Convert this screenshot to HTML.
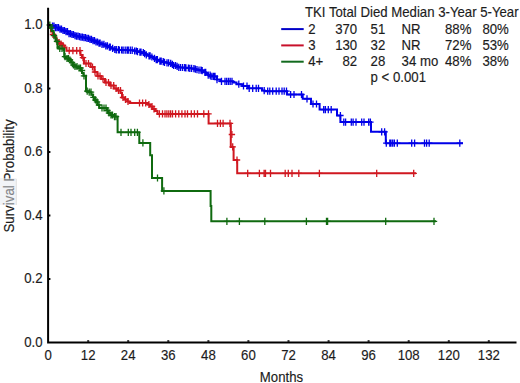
<!DOCTYPE html>
<html><head><meta charset="utf-8"><style>
html,body{margin:0;padding:0;background:#fff;width:520px;height:383px;overflow:hidden}
svg{display:block}
.t{font-family:"Liberation Sans",sans-serif;font-size:13.2px;fill:#1c1c1c;stroke:#1c1c1c;stroke-width:0.15px}
</style></head><body>
<svg width="520" height="383" viewBox="0 0 520 383">
<rect width="520" height="383" fill="#fff"/>
<path d="M48.1 25.0L50.6 25.0L50.6 25.5L52.3 25.5L52.3 26.0L55.2 26.0L55.2 27.6L58.5 27.6L58.5 29.2L61.5 29.2L61.5 30.5L64.8 30.5L64.8 31.6L68.0 31.6L68.0 33.6L71.0 33.6L71.0 34.5L73.7 34.5L73.7 35.6L76.0 35.6L76.0 36.2L78.3 36.2L78.3 36.7L80.6 36.7L80.6 37.2L82.9 37.2L82.9 37.6L86.0 37.6L86.0 38.3L89.0 38.3L89.0 39.4L92.2 39.4L92.2 40.7L95.0 40.7L95.0 42.0L98.5 42.0L98.5 43.2L101.4 43.2L101.4 44.3L104.8 44.3L104.8 45.8L108.0 45.8L108.0 47.2L111.0 47.2L111.0 48.4L113.8 48.4L113.8 49.5L116.2 49.5L116.2 49.8L118.5 49.8L118.5 50.0L120.8 50.0L120.8 50.0L123.1 50.0L123.1 50.1L125.4 50.1L125.4 50.1L127.7 50.1L127.7 50.2L130.0 50.2L130.0 50.2L132.3 50.2L132.3 50.3L134.6 50.3L134.6 51.0L136.9 51.0L136.9 51.7L139.2 51.7L139.2 52.1L141.5 52.1L141.5 52.5L143.8 52.5L143.8 53.6L146.2 53.6L146.2 54.8L148.5 54.8L148.5 55.9L150.8 55.9L150.8 57.0L153.1 57.0L153.1 58.3L155.4 58.3L155.4 59.6L157.5 59.6L157.5 60.4L159.6 60.4L159.6 61.2L161.9 61.2L161.9 61.8L164.2 61.8L164.2 62.3L166.5 62.3L166.5 62.8L168.8 62.8L168.8 63.3L171.2 63.3L171.2 64.4L173.5 64.4L173.5 65.5L175.8 65.5L175.8 66.4L178.0 66.4L178.0 67.3L180.3 67.3L180.3 67.5L182.7 67.5L182.7 67.7L185.0 67.7L185.0 67.8L187.3 67.8L187.3 68.0L189.6 68.0L189.6 68.3L191.9 68.3L191.9 68.6L194.2 68.6L194.2 69.2L196.5 69.2L196.5 69.7L198.8 69.7L198.8 70.2L201.2 70.2L201.2 70.6L203.5 70.6L203.5 72.3L205.8 72.3L205.8 74.0L208.1 74.0L208.1 75.2L210.4 75.2L210.4 76.4L217.0 76.2L217.0 79.6L220.4 79.6L220.4 81.3L233.0 81.3L233.0 82.5L236.5 82.5L236.5 84.2L242.3 84.2L242.3 86.0L248.0 86.0L248.0 88.3L262.0 88.3L262.0 90.6L264.6 90.6L264.6 91.2L287.0 91.2L287.0 94.5L302.7 94.5L302.7 98.8L311.0 98.8L311.0 104.0L319.6 104.0L319.6 109.6L337.0 109.6L337.0 115.5L340.4 115.5L340.4 122.1L371.0 122.1L371.0 131.8L385.8 131.8L385.8 143.2L463.0 143.2" fill="none" stroke="#0000e8" stroke-width="2.0"/>
<path d="M52.5 22.4V29.6M49.3 26.0H55.7M54.0 22.4V29.6M50.8 26.0H57.2M55.5 24.0V31.2M52.3 27.6H58.7M57.0 24.0V31.2M53.8 27.6H60.2M58.5 24.0V31.2M55.3 27.6H61.7M60.0 25.6V32.8M56.8 29.2H63.2M61.5 25.6V32.8M58.3 29.2H64.7M63.0 26.9V34.1M59.8 30.5H66.2M64.5 26.9V34.1M61.3 30.5H67.7M66.0 28.0V35.2M62.8 31.6H69.2M67.5 28.0V35.2M64.3 31.6H70.7M69.0 30.0V37.2M65.8 33.6H72.2M70.5 30.0V37.2M67.3 33.6H73.7M72.0 30.9V38.1M68.8 34.5H75.2M73.5 30.9V38.1M70.3 34.5H76.7M75.0 32.0V39.2M71.8 35.6H78.2M76.5 32.6V39.8M73.3 36.2H79.7M78.0 32.6V39.8M74.8 36.2H81.2M79.5 33.1V40.3M76.3 36.7H82.7M81.0 33.6V40.8M77.8 37.2H84.2M82.5 33.6V40.8M79.3 37.2H85.7M84.0 34.0V41.2M80.8 37.6H87.2M85.5 34.0V41.2M82.3 37.6H88.7M87.0 34.7V41.9M83.8 38.3H90.2M88.5 34.7V41.9M85.3 38.3H91.7M90.0 35.8V43.0M86.8 39.4H93.2M91.5 35.8V43.0M88.3 39.4H94.7M93.0 37.1V44.3M89.8 40.7H96.2M94.5 37.1V44.3M91.3 40.7H97.7M96.0 38.4V45.6M92.8 42.0H99.2M97.5 38.4V45.6M94.3 42.0H100.7M99.0 39.6V46.8M95.8 43.2H102.2M100.1 39.6V46.8M96.9 43.2H103.3M102.0 40.7V47.9M98.8 44.3H105.2M103.9 40.7V47.9M100.7 44.3H107.1M105.8 42.2V49.4M102.6 45.8H109.0M107.4 42.2V49.4M104.2 45.8H110.6M109.4 43.6V50.8M106.2 47.2H112.6M110.3 43.6V50.8M107.1 47.2H113.5M112.6 44.8V52.0M109.4 48.4H115.8M114.8 45.9V53.1M111.6 49.5H118.0M116.3 46.1V53.4M113.1 49.8H119.5M118.4 46.1V53.4M115.2 49.8H121.6M119.4 46.4V53.6M116.2 50.0H122.6M121.6 46.4V53.6M118.4 50.0H124.8M123.1 46.5V53.7M119.9 50.1H126.3M125.2 46.5V53.7M122.0 50.1H128.4M127.1 46.5V53.8M123.9 50.1H130.3M128.3 46.6V53.8M125.1 50.2H131.5M130.3 46.6V53.9M127.1 50.2H133.5M132.2 46.6V53.9M129.0 50.2H135.4M134.6 47.4V54.6M131.4 51.0H137.8M136.3 47.4V54.6M133.1 51.0H139.5M137.5 48.1V55.3M134.3 51.7H140.7M139.9 48.5V55.7M136.7 52.1H143.1M141.0 48.5V55.7M137.8 52.1H144.2M143.3 48.9V56.1M140.1 52.5H146.5M144.6 50.0V57.2M141.4 53.6H147.8M146.3 51.2V58.4M143.1 54.8H149.5M149.0 52.3V59.5M145.8 55.9H152.2M150.1 52.3V59.5M146.9 55.9H153.3M151.9 53.4V60.6M148.7 57.0H155.1M154.5 54.7V61.9M151.3 58.3H157.7M156.2 56.0V63.2M153.0 59.6H159.4M157.4 56.0V63.2M154.2 59.6H160.6M159.9 57.6V64.8M156.7 61.2H163.1M161.2 57.6V64.8M158.0 61.2H164.4M163.2 58.1V65.3M160.0 61.8H166.4M164.5 58.7V65.9M161.3 62.3H167.7M167.0 59.2V66.4M163.8 62.8H170.2M168.6 59.2V66.4M165.4 62.8H171.8M170.7 59.7V66.9M167.5 63.3H173.9M172.4 60.8V68.0M169.2 64.4H175.6M173.6 61.9V69.1M170.4 65.5H176.8M175.5 61.9V69.1M172.3 65.5H178.7M177.1 62.8V70.0M173.9 66.4H180.3M178.8 63.7V70.9M175.6 67.3H182.0M180.6 63.9V71.1M177.4 67.5H183.8M182.6 63.9V71.1M179.4 67.5H185.8M184.7 64.1V71.2M181.5 67.7H187.9M185.9 64.2V71.4M182.7 67.8H189.1M188.4 64.4V71.6M185.2 68.0H191.6M189.8 64.7V71.9M186.6 68.3H193.0M191.6 64.7V71.9M188.4 68.3H194.8M193.9 65.0V72.2M190.7 68.6H197.1M195.4 65.6V72.8M192.2 69.2H198.6M197.0 66.1V73.3M193.8 69.7H200.2M199.0 66.6V73.8M195.8 70.2H202.2M201.0 66.6V73.8M197.8 70.2H204.2M202.2 67.0V74.2M199.0 70.6H205.4M204.9 68.7V75.9M201.7 72.3H208.1M205.7 68.7V75.9M202.5 72.3H208.9M208.2 71.6V78.8M205.0 75.2H211.4M210.1 71.6V78.8M206.9 75.2H213.3M211.1 72.8V80.0M207.9 76.4H214.3M213.7 72.8V80.0M210.5 76.4H216.9M213.0 72.8V80.0M209.8 76.4H216.2M215.0 72.8V80.0M211.8 76.4H218.2M217.0 76.0V83.2M213.8 79.6H220.2M221.5 77.7V84.9M218.3 81.3H224.7M225.0 77.7V84.9M221.8 81.3H228.2M226.7 77.7V84.9M223.5 81.3H229.9M228.5 77.7V84.9M225.3 81.3H231.7M230.2 77.7V84.9M227.0 81.3H233.4M232.0 77.7V84.9M228.8 81.3H235.2M238.8 80.6V87.8M235.6 84.2H242.0M243.5 82.4V89.6M240.3 86.0H246.7M247.0 82.4V89.6M243.8 86.0H250.2M249.2 84.7V91.9M246.0 88.3H252.4M252.7 84.7V91.9M249.5 88.3H255.9M256.2 84.7V91.9M253.0 88.3H259.4M258.5 84.7V91.9M255.3 88.3H261.7M264.2 87.0V94.2M261.0 90.6H267.4M267.7 87.6V94.8M264.5 91.2H270.9M269.8 87.6V94.8M266.6 91.2H273.0M272.7 87.6V94.8M269.5 91.2H275.9M276.2 87.6V94.8M273.0 91.2H279.4M279.0 87.6V94.8M275.8 91.2H282.2M282.0 87.6V94.8M278.8 91.2H285.2M284.2 87.6V94.8M281.0 91.2H287.4M286.5 87.6V94.8M283.3 91.2H289.7M290.6 90.9V98.1M287.4 94.5H293.8M294.0 90.9V98.1M290.8 94.5H297.2M301.5 90.9V98.1M298.3 94.5H304.7M307.0 95.2V102.4M303.8 98.8H310.2M313.0 100.4V107.6M309.8 104.0H316.2M316.5 100.4V107.6M313.3 104.0H319.7M323.7 106.0V113.2M320.5 109.6H326.9M325.4 106.0V113.2M322.2 109.6H328.6M328.3 106.0V113.2M325.1 109.6H331.5M331.2 106.0V113.2M328.0 109.6H334.4M340.4 111.9V119.1M337.2 115.5H343.6M343.8 118.5V125.7M340.6 122.1H347.0M345.6 118.5V125.7M342.4 122.1H348.8M351.3 118.5V125.7M348.1 122.1H354.5M353.1 118.5V125.7M349.9 122.1H356.3M356.0 118.5V125.7M352.8 122.1H359.2M361.7 118.5V125.7M358.5 122.1H364.9M364.0 118.5V125.7M360.8 122.1H367.2M368.7 118.5V125.7M365.5 122.1H371.9M370.4 118.5V125.7M367.2 122.1H373.6M381.7 128.2V135.4M378.5 131.8H384.9M384.6 128.2V135.4M381.4 131.8H387.8M386.3 139.6V146.8M383.1 143.2H389.5M389.8 139.6V146.8M386.6 143.2H393.0M391.0 139.6V146.8M387.8 143.2H394.2M392.7 139.6V146.8M389.5 143.2H395.9M394.4 139.6V146.8M391.2 143.2H397.6M397.3 139.6V146.8M394.1 143.2H400.5M411.7 139.6V146.8M408.5 143.2H414.9M414.6 139.6V146.8M411.4 143.2H417.8M424.5 139.6V146.8M421.3 143.2H427.7M426.6 139.6V146.8M423.4 143.2H429.8M429.2 139.6V146.8M426.0 143.2H432.4M459.8 139.6V146.8M456.6 143.2H463.0" fill="none" stroke="#0000e8" stroke-width="1.3"/>
<path d="M48.1 25.0L49.5 25.0L49.5 28.0L51.0 28.0L51.0 31.5L52.7 31.5L52.7 34.5L54.5 34.5L54.5 37.5L56.5 37.5L56.5 40.5L58.5 40.5L58.5 42.5L60.5 42.5L60.5 44.0L62.5 44.0L62.5 45.5L64.5 45.5L64.5 47.5L66.5 47.5L66.5 49.2L66.5 50.7L80.4 50.7L80.4 52.5L80.5 52.5L80.5 55.0L82.0 55.0L82.0 57.7L84.0 57.7L84.0 63.5L90.6 63.5L90.6 67.0L94.4 67.0L94.4 72.0L97.3 72.0L97.3 76.0L101.2 76.0L101.2 79.0L105.0 79.0L105.0 82.5L110.0 82.5L110.0 85.5L113.7 85.5L113.7 88.5L117.0 88.5L117.0 90.5L120.5 90.5L120.5 93.0L122.0 93.0L122.0 97.5L125.0 97.5L125.0 99.5L127.5 99.5L127.5 101.5L129.5 101.5L129.5 103.0L148.0 103.0L148.0 104.5L150.0 104.5L150.0 106.5L152.5 106.5L152.5 109.0L155.0 109.0L155.0 111.0L157.5 111.0L157.5 113.9L208.6 113.9L208.6 123.4L230.8 123.4L230.8 147.0L233.6 147.0L233.6 160.0L237.2 160.0L237.2 173.3L416.0 173.3" fill="none" stroke="#d01820" stroke-width="2.0"/>
<path d="M53.0 30.9V38.1M49.8 34.5H56.2M59.0 38.9V46.1M55.8 42.5H62.2M61.0 40.4V47.6M57.8 44.0H64.2M63.0 41.9V49.1M59.8 45.5H66.2M69.2 47.1V54.3M66.0 50.7H72.4M72.9 47.1V54.3M69.7 50.7H76.1M76.7 47.1V54.3M73.5 50.7H79.9M80.0 47.1V54.3M76.8 50.7H83.2M83.0 54.1V61.3M79.8 57.7H86.2M86.0 59.9V67.1M82.8 63.5H89.2M88.5 59.9V67.1M85.3 63.5H91.7M92.5 63.4V70.6M89.3 67.0H95.7M95.0 68.4V75.6M91.8 72.0H98.2M98.0 72.4V79.6M94.8 76.0H101.2M100.0 72.4V79.6M96.8 76.0H103.2M103.0 75.4V82.6M99.8 79.0H106.2M106.0 78.9V86.1M102.8 82.5H109.2M108.5 78.9V86.1M105.3 82.5H111.7M111.0 81.9V89.1M107.8 85.5H114.2M113.7 81.9V89.1M110.5 85.5H116.9M116.0 84.9V92.1M112.8 88.5H119.2M118.5 86.9V94.1M115.3 90.5H121.7M120.5 86.9V94.1M117.3 90.5H123.7M123.0 93.9V101.1M119.8 97.5H126.2M125.5 95.9V103.1M122.3 99.5H128.7M128.0 97.9V105.1M124.8 101.5H131.2M139.5 99.4V106.6M136.3 103.0H142.7M142.6 99.4V106.6M139.4 103.0H145.8M145.7 99.4V106.6M142.5 103.0H148.9M148.9 100.9V108.1M145.7 104.5H152.1M152.0 102.9V110.1M148.8 106.5H155.2M154.0 105.4V112.6M150.8 109.0H157.2M159.4 110.3V117.5M156.2 113.9H162.6M162.5 110.3V117.5M159.3 113.9H165.7M165.0 110.3V117.5M161.8 113.9H168.2M166.9 110.3V117.5M163.7 113.9H170.1M168.8 110.3V117.5M165.6 113.9H172.0M170.6 110.3V117.5M167.4 113.9H173.8M172.5 110.3V117.5M169.3 113.9H175.7M175.6 110.3V117.5M172.4 113.9H178.8M178.8 110.3V117.5M175.6 113.9H182.0M181.9 110.3V117.5M178.7 113.9H185.1M185.0 110.3V117.5M181.8 113.9H188.2M187.5 110.3V117.5M184.3 113.9H190.7M191.3 110.3V117.5M188.1 113.9H194.5M194.4 110.3V117.5M191.2 113.9H197.6M197.5 110.3V117.5M194.3 113.9H200.7M203.8 110.3V117.5M200.6 113.9H207.0M208.5 110.3V117.5M205.3 113.9H211.7M217.5 119.8V127.0M214.3 123.4H220.7M220.4 119.8V127.0M217.2 123.4H223.6M223.1 119.8V127.0M219.9 123.4H226.3M230.0 119.8V127.0M226.8 123.4H233.2M247.7 169.7V176.9M244.5 173.3H250.9M259.4 169.7V176.9M256.2 173.3H262.6M264.1 169.7V176.9M260.9 173.3H267.3M265.5 169.7V176.9M262.3 173.3H268.7M270.5 169.7V176.9M267.3 173.3H273.7M285.2 169.7V176.9M282.0 173.3H288.4M288.3 169.7V176.9M285.1 173.3H291.5M292.0 169.7V176.9M288.8 173.3H295.2M298.8 169.7V176.9M295.6 173.3H302.0M319.4 169.7V176.9M316.2 173.3H322.6M376.7 169.7V176.9M373.5 173.3H379.9M413.7 169.7V176.9M410.5 173.3H416.9M231.9 130.9V138.1M228.7 134.5H235.1M232.7 143.3V150.5M229.5 146.9H235.9M237.0 156.4V163.6M233.8 160.0H240.2" fill="none" stroke="#d01820" stroke-width="1.3"/>
<path d="M48.1 25.0L49.8 25.0L49.8 27.5L51.8 27.5L51.8 31.0L53.7 31.0L53.7 35.6L55.6 35.6L55.6 41.3L57.5 41.3L57.5 47.0L58.5 47.0L58.5 48.5L63.5 48.5L63.5 50.0L64.2 50.0L64.2 56.7L66.0 56.7L66.0 58.5L69.0 58.5L69.0 60.0L71.0 60.0L71.0 62.5L73.0 62.5L73.0 65.0L74.3 65.0L74.3 66.5L78.0 66.5L78.0 68.0L80.8 68.0L80.8 70.5L82.0 70.5L82.0 73.0L83.4 73.0L83.4 75.8L86.0 75.8L86.0 91.2L89.0 91.2L89.0 92.2L91.6 92.2L91.6 94.8L93.0 94.8L93.0 97.3L94.8 97.3L94.8 100.0L96.5 100.0L96.5 101.8L97.6 101.8L97.6 105.0L99.3 105.0L99.3 108.0L107.0 108.0L107.0 110.5L108.5 110.5L108.5 113.0L110.5 113.0L110.5 115.0L113.0 115.0L113.0 116.6L117.6 116.6L117.6 132.3L139.3 132.3L139.3 142.9L150.2 142.9L150.2 155.2L152.0 155.2L152.0 178.0L162.1 178.0L162.1 190.9L210.6 190.9L210.6 206.0L211.3 206.0L211.3 221.3L436.0 221.3" fill="none" stroke="#0f6a0f" stroke-width="2.0"/>
<path d="M49.8 21.4V28.6M46.6 25.0H53.0M51.2 23.9V31.1M48.0 27.5H54.4M54.0 32.0V39.2M50.8 35.6H57.2M57.0 37.7V44.9M53.8 41.3H60.2M59.8 44.9V52.1M56.6 48.5H63.0M62.0 44.9V52.1M58.8 48.5H65.2M65.0 53.1V60.3M61.8 56.7H68.2M67.0 54.9V62.1M63.8 58.5H70.2M68.5 54.9V62.1M65.3 58.5H71.7M70.0 56.4V63.6M66.8 60.0H73.2M72.0 58.9V66.1M68.8 62.5H75.2M73.5 61.4V68.6M70.3 65.0H76.7M75.0 62.9V70.1M71.8 66.5H78.2M77.0 62.9V70.1M73.8 66.5H80.2M79.0 64.4V71.6M75.8 68.0H82.2M80.5 64.4V71.6M77.3 68.0H83.7M82.0 66.9V74.1M78.8 70.5H85.2M84.0 72.2V79.4M80.8 75.8H87.2M87.2 87.6V94.8M84.0 91.2H90.4M89.2 88.6V95.8M86.0 92.2H92.4M91.0 88.6V95.8M87.8 92.2H94.2M93.5 93.7V100.9M90.3 97.3H96.7M95.5 96.4V103.6M92.3 100.0H98.7M97.0 98.2V105.4M93.8 101.8H100.2M99.0 101.4V108.6M95.8 105.0H102.2M102.0 104.4V111.6M98.8 108.0H105.2M104.0 104.4V111.6M100.8 108.0H107.2M106.0 104.4V111.6M102.8 108.0H109.2M107.5 106.9V114.1M104.3 110.5H110.7M109.0 109.4V116.6M105.8 113.0H112.2M111.0 111.4V118.6M107.8 115.0H114.2M112.5 111.4V118.6M109.3 115.0H115.7M114.5 113.0V120.2M111.3 116.6H117.7M116.0 113.0V120.2M112.8 116.6H119.2M121.0 128.7V135.9M117.8 132.3H124.2M128.3 128.7V135.9M125.1 132.3H131.5M131.0 128.7V135.9M127.8 132.3H134.2M134.7 128.7V135.9M131.5 132.3H137.9M137.4 128.7V135.9M134.2 132.3H140.6M142.9 139.3V146.5M139.7 142.9H146.1M157.5 174.4V181.6M154.3 178.0H160.7M163.9 187.3V194.5M160.7 190.9H167.1M226.9 217.7V224.9M223.7 221.3H230.1M239.4 217.7V224.9M236.2 221.3H242.6M264.8 217.7V224.9M261.6 221.3H268.0M306.4 217.7V224.9M303.2 221.3H309.6M326.5 217.7V224.9M323.3 221.3H329.7M327.6 217.7V224.9M324.4 221.3H330.8M385.7 217.7V224.9M382.5 221.3H388.9M434.0 217.7V224.9M430.8 221.3H437.2" fill="none" stroke="#0f6a0f" stroke-width="1.3"/>
<path d="M48.1 7.8V343.6M47.1 342.6H516.5" stroke="#000" stroke-width="2" fill="none"/>
<path d="M48.8 279.0H50.4M48.8 215.5H50.4M48.8 152.0H50.4M48.8 88.5H50.4M48.8 25.0H50.4M88.2 341.8V340.2M128.2 341.8V340.2M168.3 341.8V340.2M208.4 341.8V340.2M248.4 341.8V340.2M288.5 341.8V340.2M328.6 341.8V340.2M368.6 341.8V340.2M408.7 341.8V340.2M448.8 341.8V340.2M488.8 341.8V340.2" stroke="#000" stroke-width="2" fill="none"/>
<text transform="translate(42.6 346.7) scale(1 1.04)" text-anchor="end" class="t">0.0</text>
<text transform="translate(42.6 283.2) scale(1 1.04)" text-anchor="end" class="t">0.2</text>
<text transform="translate(42.6 219.7) scale(1 1.04)" text-anchor="end" class="t">0.4</text>
<text transform="translate(42.6 156.2) scale(1 1.04)" text-anchor="end" class="t">0.6</text>
<text transform="translate(42.6 92.7) scale(1 1.04)" text-anchor="end" class="t">0.8</text>
<text transform="translate(42.6 29.2) scale(1 1.04)" text-anchor="end" class="t">1.0</text>
<text transform="translate(48.1 360.2) scale(1 1.04)" text-anchor="middle" class="t">0</text>
<text transform="translate(88.2 360.2) scale(1 1.04)" text-anchor="middle" class="t">12</text>
<text transform="translate(128.2 360.2) scale(1 1.04)" text-anchor="middle" class="t">24</text>
<text transform="translate(168.3 360.2) scale(1 1.04)" text-anchor="middle" class="t">36</text>
<text transform="translate(208.4 360.2) scale(1 1.04)" text-anchor="middle" class="t">48</text>
<text transform="translate(248.4 360.2) scale(1 1.04)" text-anchor="middle" class="t">60</text>
<text transform="translate(288.5 360.2) scale(1 1.04)" text-anchor="middle" class="t">72</text>
<text transform="translate(328.6 360.2) scale(1 1.04)" text-anchor="middle" class="t">84</text>
<text transform="translate(368.6 360.2) scale(1 1.04)" text-anchor="middle" class="t">96</text>
<text transform="translate(408.7 360.2) scale(1 1.04)" text-anchor="middle" class="t">108</text>
<text transform="translate(448.8 360.2) scale(1 1.04)" text-anchor="middle" class="t">120</text>
<text transform="translate(488.8 360.2) scale(1 1.04)" text-anchor="middle" class="t">132</text>
<text transform="translate(281.5 381.7) scale(1 1.04)" text-anchor="middle" class="t">Months</text>
<text transform="translate(13.8 232.6) rotate(-90) scale(1.01 1.04)" class="t">Survival Probability</text>
<rect x="0" y="178" width="16.5" height="27" fill="#e6eaef" fill-opacity="0.5"/><path d="M16.3 179V205" stroke="#e2e2e2" stroke-width="1"/>
<text transform="translate(305.0 17.1) scale(1 1.04)" class="t">TKI Total Died Median 3-Year 5-Year</text>
<path d="M281.2 29.1H303.7" stroke="#0000c8" stroke-width="2"/>
<text transform="translate(308.2 33.9) scale(1 1.04)" class="t">2</text>
<text transform="translate(357.2 33.9) scale(1 1.04)" text-anchor="end" class="t">370</text>
<text transform="translate(370.6 33.9) scale(1 1.04)" class="t">51</text>
<text transform="translate(401.6 33.9) scale(1 1.04)" class="t">NR</text>
<text transform="translate(445.0 33.9) scale(1 1.04)" class="t">88%</text>
<text transform="translate(482.4 33.9) scale(1 1.04)" class="t">80%</text>
<path d="M281.2 45.4H303.7" stroke="#c8102a" stroke-width="2"/>
<text transform="translate(308.2 50.0) scale(1 1.04)" class="t">3</text>
<text transform="translate(357.2 50.0) scale(1 1.04)" text-anchor="end" class="t">130</text>
<text transform="translate(370.6 50.0) scale(1 1.04)" class="t">32</text>
<text transform="translate(401.6 50.0) scale(1 1.04)" class="t">NR</text>
<text transform="translate(445.0 50.0) scale(1 1.04)" class="t">72%</text>
<text transform="translate(482.4 50.0) scale(1 1.04)" class="t">53%</text>
<path d="M281.2 61.7H303.7" stroke="#126a1e" stroke-width="2"/>
<text transform="translate(308.2 65.6) scale(1 1.04)" class="t">4+</text>
<text transform="translate(357.2 65.6) scale(1 1.04)" text-anchor="end" class="t">82</text>
<text transform="translate(370.6 65.6) scale(1 1.04)" class="t">28</text>
<text transform="translate(401.6 65.6) scale(1 1.04)" class="t">34 mo</text>
<text transform="translate(445.0 65.6) scale(1 1.04)" class="t">48%</text>
<text transform="translate(482.4 65.6) scale(1 1.04)" class="t">38%</text>
<text transform="translate(370.6 82.1) scale(1 1.04)" class="t">p &lt; 0.001</text>
</svg>
</body></html>
